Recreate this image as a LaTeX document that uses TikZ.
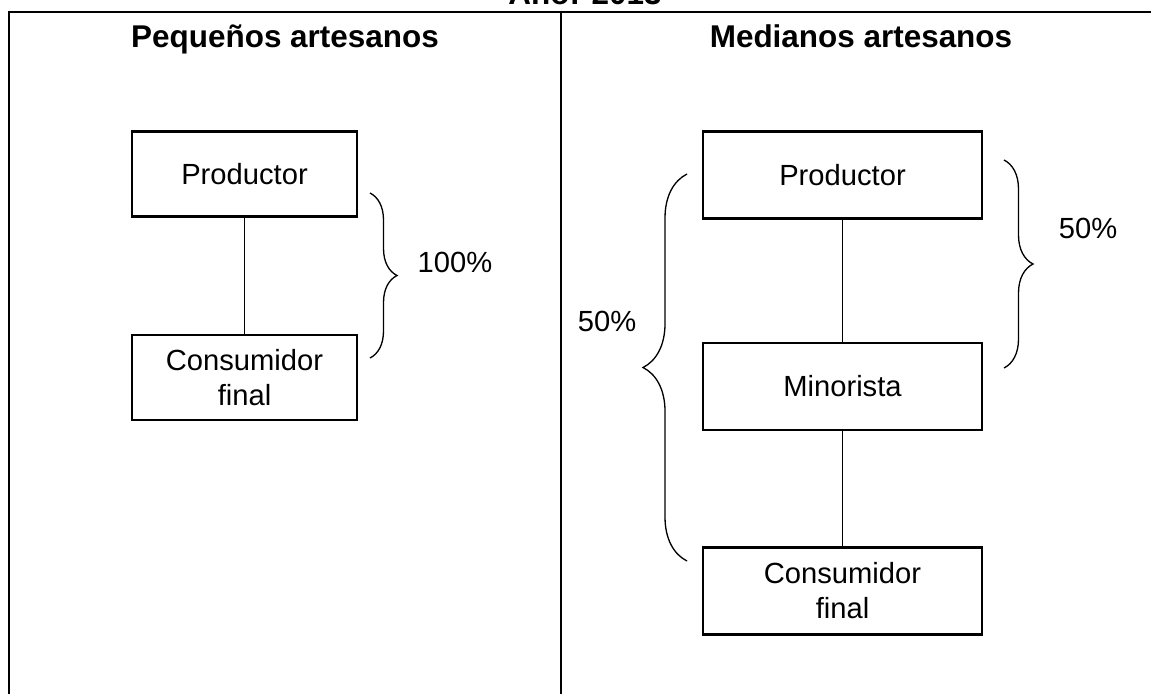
\documentclass[tikz,border=0pt]{standalone}
\usepackage{fontspec}
\setmainfont{Liberation Sans}
\usetikzlibrary{decorations.pathreplacing}

\begin{document}
\begin{tikzpicture}[x=0.02cm, y=-0.02cm,
    every node/.style={font=\fontsize{16.6}{19.9}\selectfont},
    box/.style={draw, line width=1.5pt, align=center, inner sep=0pt,
                minimum width=4.5cm, minimum height=1.7cm},
    widebox/.style={box, minimum width=5.58cm, minimum height=1.74cm},
    head/.style={font=\fontsize{17.9}{21}\selectfont\bfseries, anchor=base},
    link/.style={line width=0.75pt},
    frame/.style={line width=1.4pt},
    curly/.style={line width=0.75pt, decorate, decoration={brace, amplitude=#1}}]
    \useasboundingbox (0,0) rectangle (1151,694);% Fixes the page size

    % Frame of the table
    \coordinate (TopLeft)  at (9,12);
    \coordinate (TopRight) at (1151,12);
    \coordinate (BotLeft)  at (9,694);
    \coordinate (MidTop)   at (561,12);
    \coordinate (MidBot)   at (561,694);
    \draw [frame] (BotLeft) -- (TopLeft) -- (TopRight);
    \draw [frame] (MidTop) -- (MidBot);

    % Titles
    \node [head] (Year)  at (585,4)  {Año: 2013};
    \node [head] (Small) at (285,47) {Pequeños artesanos};
    \node [head] (Mid)   at (861,47) {Medianos artesanos};

    % Small producers
    \node [box] (SProd) at (244.5,174)   {Productor};
    \node [box] (SCons) at (244.5,377.5) {Consumidor\\final};
    \draw [link] (SProd) -- (SCons);
    \coordinate (SBraceTop) at (370,193);
    \coordinate (SBraceBot) at (370,358);
    \draw [curly=0.54cm] (SBraceTop) -- (SBraceBot);
    \node (SShare) at (455,262) {100\%};

    % Medium producers
    \node [widebox] (MProd) at (842.5,175)   {Productor};
    \node [widebox] (MMin)  at (842.5,386.5) {Minorista};
    \node [widebox] (MCons) at (842.5,591)   {Consumidor\\final};
    \draw [link] (MProd) -- (MMin);
    \draw [link] (MMin) -- (MCons);
    \coordinate (MBraceTop) at (1004,160);
    \coordinate (MBraceBot) at (1004,368);
    \draw [curly=0.58cm] (MBraceTop) -- (MBraceBot);
    \node (MShareA) at (1088,228) {50\%};
    \coordinate (LBraceTop) at (687,174);
    \coordinate (LBraceBot) at (687,561);
    \draw [curly=0.88cm] (LBraceBot) -- (LBraceTop);
    \node (MShareB) at (607,321) {50\%};
\end{tikzpicture}
\end{document}
